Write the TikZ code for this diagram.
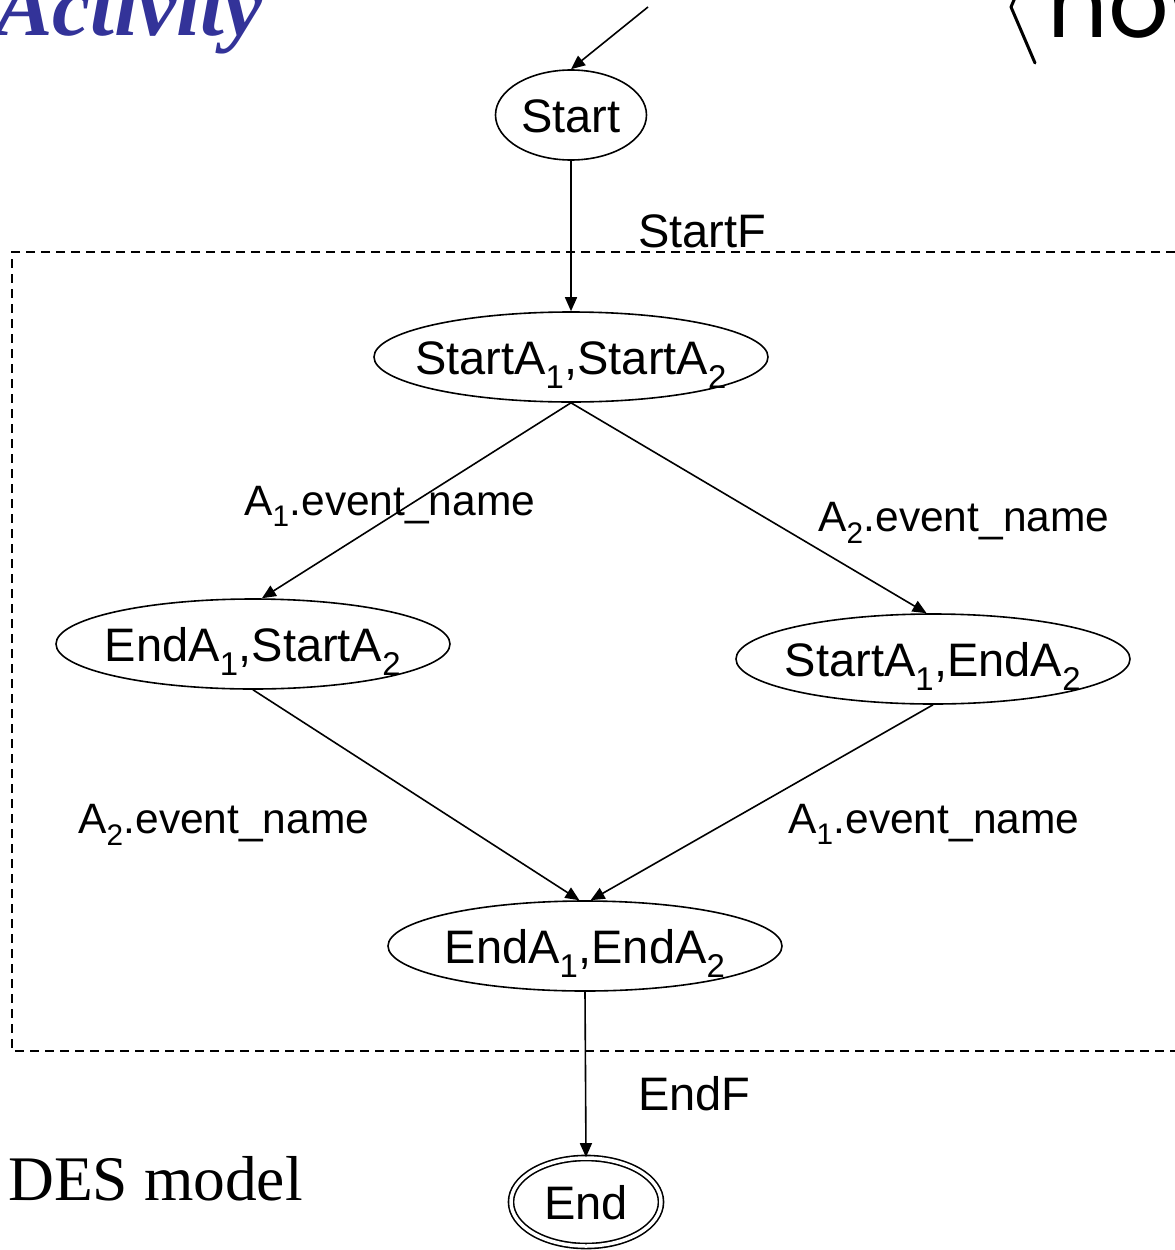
\documentclass[tikz,border=0pt]{standalone}
\usepackage{fontspec}
\setmainfont{Liberation Sans}
\newfontfamily\timesface{Liberation Serif}
\newfontfamily\roundface{Poppins}
\usetikzlibrary{arrows.meta,shapes.geometric}
\definecolor{titleblue}{RGB}{51,51,153}
\tikzset{
  state/.style={ellipse, draw, line width=1.6pt, inner sep=0pt,
    minimum width=394pt, minimum height=90pt,
    font=\fontsize{47}{50}\selectfont, text height=34pt, text depth=0pt},
  flow/.style={line width=1.6pt, -{Triangle[length=14pt,width=12pt]}},
  evlabel/.style={anchor=base west, inner sep=0pt, font=\fontsize{42.5}{45}\selectfont},
  bigfontlabel/.style={anchor=base west, inner sep=0pt, font=\fontsize{47}{50}\selectfont},
}
\newcommand{\ssub}[1]{\textsubscript{#1}}
% zero-width text so the ellipse keeps its given size
\newcommand{\ctr}[1]{\makebox[0pt]{#1}}
\begin{document}
\begin{tikzpicture}[x=1pt,y=-1pt]
\useasboundingbox (0,0) rectangle (1175,1250);
\clip (0,0) rectangle (1175,1250);

% title fragments
\node[anchor=base east, inner sep=0pt, text=titleblue,
  font=\timesface\bfseries\itshape\fontsize{86}{90}\selectfont] (title) at (263,35) {Activity};
\draw[line width=3pt, line cap=round, line join=round] (1035,-49) -- (1011,7) -- (1035,63);
\node[anchor=base west, inner sep=0pt, font=\roundface\fontsize{95}{100}\selectfont] (flowword) at (1047,37) {how};

% the composite-state boundary
\draw[dashed, line width=1.6pt, dash pattern=on 9pt off 6pt]
  (1190,252) -- (12,252) -- (12,1051) -- (1190,1051);

% states
\node[state, minimum width=151pt] (start) at (571,115) {\ctr{Start}};
\node[state] (ss) at (571,357) {\ctr{StartA\ssub{1},StartA\ssub{2}}};
\node[state] (es) at (253,644) {\ctr{EndA\ssub{1},StartA\ssub{2}}};
\node[state] (se) at (933,659) {\ctr{StartA\ssub{1},EndA\ssub{2}}};
\node[state] (ee) at (585,946) {\ctr{EndA\ssub{1},EndA\ssub{2}}};
\node[state, minimum width=150pt, minimum height=88pt, double, line width=1.6pt,
  double distance=3.5pt] (end) at (586,1202) {\ctr{End}};

% transitions
\coordinate (entry) at (648,7);
\draw[flow] (entry) -- (start.north);
\draw[flow] (start.south) -- (ss.north);
\draw[flow] (ss.south) -- (es.79);
\draw[flow] (ss.south) -- (se.98);
\draw[flow] (es.south) -- (ee.97);
\draw[flow] (se.south) -- (ee.83);
\draw[flow] (ee.south) -- (end.north);

% transition labels
\node[bigfontlabel] (lstartf) at (638,247) {StartF};
\node[evlabel] (la1) at (244,515) {A\ssub{1}.event\_name};
\node[evlabel] (la2) at (818,531) {A\ssub{2}.event\_name};
\node[evlabel] (lb2) at (78,833) {A\ssub{2}.event\_name};
\node[evlabel] (lb1) at (788,833) {A\ssub{1}.event\_name};
\node[bigfontlabel] (lendf) at (638,1110) {EndF};

\node[anchor=base west, inner sep=0pt, font=\timesface\fontsize{63.5}{66}\selectfont] (des) at (8,1200) {DES model};
\end{tikzpicture}
\end{document}
